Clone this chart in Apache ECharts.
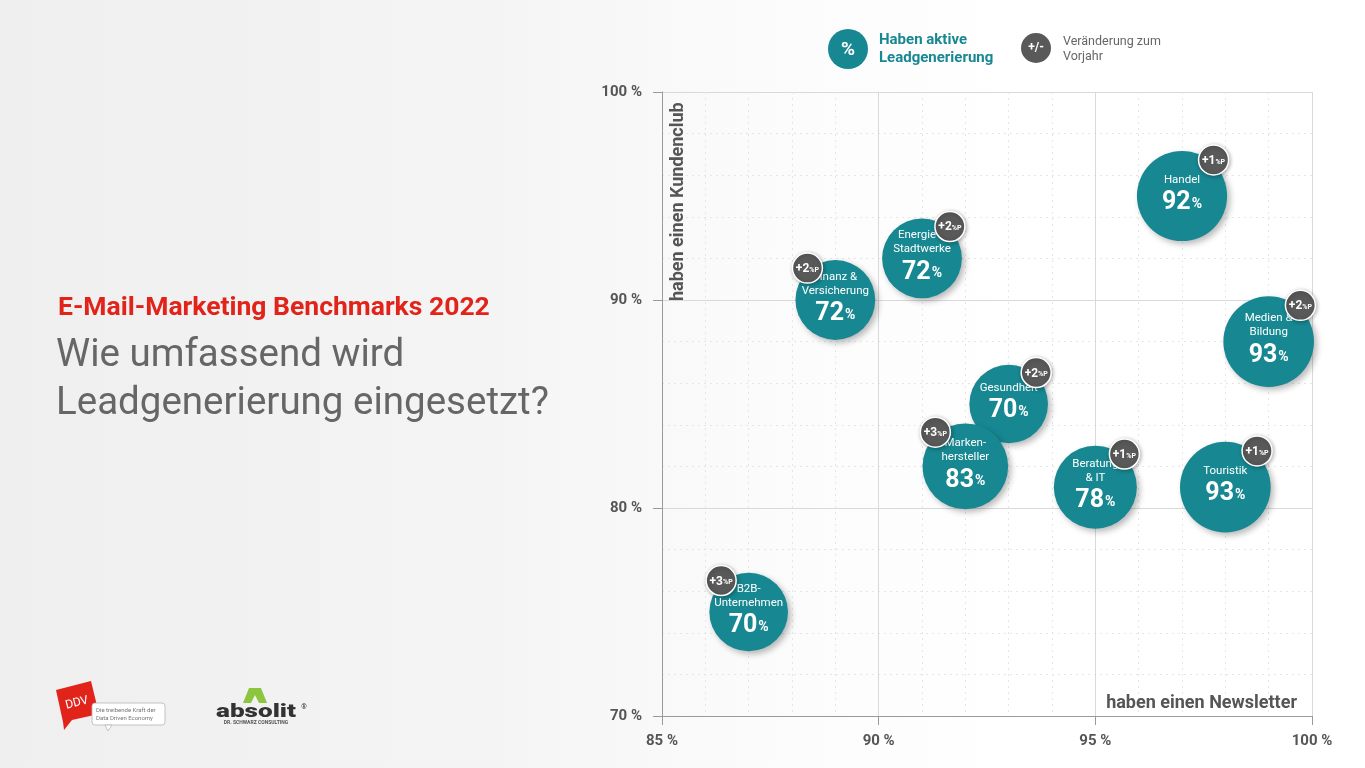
<!DOCTYPE html>
<html>
<head>
<meta charset="utf-8">
<script src="https://cdn.jsdelivr.net/npm/echarts@6/dist/echarts.min.js"></script>
<style>
html,body{margin:0;padding:0;width:1365px;height:768px;overflow:hidden;
background:linear-gradient(90deg,#efefef 0%,#f4f4f4 35%,#fbfbfb 55%,#ffffff 75%);}
#c{width:1365px;height:768px;}
</style>
</head>
<body>
<div id="c"></div>
<script>
// ---- data ----
const categories = ['Handel', 'Energie &\nStadtwerke', 'Finanz &\nVersicherung', 'Medien &\nBildung', 'Gesundheit', 'Marken-\nhersteller', 'Beratung\n& IT', 'Touristik', 'B2B-\nUnternehmen'];
const newsletter = [97, 91, 89, 99, 93, 92, 95, 98, 87];      // x: haben einen Newsletter (%)
const kundenclub = [95, 92, 90, 88, 85, 82, 81, 81, 75];      // y: haben einen Kundenclub (%)
const leadgen    = [92, 72, 72, 93, 70, 83, 78, 93, 70];      // haben aktive Leadgenerierung (%)
const change     = [1, 2, 2, 2, 2, 3, 1, 1, 3];               // Veränderung zum Vorjahr (%P)
const badgeSide  = ['right', 'right', 'left', 'right', 'right', 'left', 'right', 'right', 'left'];
const xTicks = [85, 90, 95, 100];
const yTicks = [70, 80, 90, 100];

// ---- style ----
const FONT = 'Roboto';
const TEAL = '#178892';
const BADGE = '#595959';
const AX = '#555555';

function bubbleSize(v) { return 9.4 * Math.sqrt(v); }

const chart = echarts.init(document.getElementById('c'), null, { renderer: 'canvas' });

const bubbleData = categories.map((c, i) => [newsletter[i], kundenclub[i], leadgen[i], c]);
const badgeData = categories.map((c, i) => [newsletter[i], kundenclub[i], change[i]]);

const option = {
  backgroundColor: 'transparent',
  animation: false,
  textStyle: { fontFamily: FONT },
  grid: { left: 662, right: 53, top: 92, bottom: 52 },
  xAxis: {
    type: 'value', min: xTicks[0], max: xTicks[xTicks.length - 1], interval: 5,
    axisLine: { show: true, lineStyle: { color: '#9a9a9a', width: 1 } },
    axisTick: { show: true, length: 9, lineStyle: { color: '#9a9a9a' } },
    axisLabel: { formatter: '{value} %', color: AX, fontWeight: 'bold', fontSize: 15, margin: 18, fontFamily: FONT },
    splitLine: { show: true, lineStyle: { color: '#d9d9d9' } },
    minorTick: { show: false, splitNumber: 5 },
    minorSplitLine: { show: true, lineStyle: { color: '#e6e6e6', type: [2, 4] } }
  },
  yAxis: {
    type: 'value', min: yTicks[0], max: yTicks[yTicks.length - 1], interval: 10,
    axisLine: { show: true, lineStyle: { color: '#9a9a9a', width: 1 } },
    axisTick: { show: true, length: 9, lineStyle: { color: '#9a9a9a' } },
    axisLabel: { formatter: '{value} %', color: AX, fontWeight: 'bold', fontSize: 15, margin: 20, fontFamily: FONT },
    splitLine: { show: true, lineStyle: { color: '#d9d9d9' } },
    minorTick: { show: false, splitNumber: 5 },
    minorSplitLine: { show: true, lineStyle: { color: '#e6e6e6', type: [2, 4] } }
  },
  series: [
    {
      type: 'scatter',
      clip: false,
      data: bubbleData,
      symbol: 'circle',
      symbolSize: (v) => bubbleSize(v[2]),
      itemStyle: {
        color: TEAL, opacity: 1,
        shadowBlur: 6, shadowColor: 'rgba(0,0,0,0.28)', shadowOffsetX: 3, shadowOffsetY: 3
      },
      label: {
        show: true, position: 'inside',
        formatter: (p) => {
          const lines = p.data[3].split('\n').map(l => '{n|' + l + '}').join('\n');
          return lines + '\n{v|' + p.data[2] + '}{p|%}';
        },
        rich: {
          n: { color: '#ffffff', fontSize: 11.5, lineHeight: 14, fontFamily: FONT, align: 'center' },
          v: { color: '#ffffff', fontSize: 25, fontWeight: 'bold', lineHeight: 32, fontFamily: FONT },
          p: { color: '#ffffff', fontSize: 14, fontWeight: 'bold', lineHeight: 32, padding: [3, 0, 0, 1], fontFamily: FONT }
        }
      },
      emphasis: { disabled: true },
      z: 2
    },
    {
      type: 'custom',
      clip: false,
      data: badgeData,
      z: 5,
      renderItem: (params, api) => {
        const i = params.dataIndex;
        const pt = api.coord([api.value(0), api.value(1)]);
        const r = bubbleSize(leadgen[i]) / 2;
        const s = badgeSide[i] === 'left' ? -1 : 1;
        const cx = pt[0] + s * 0.7 * r;
        const cy = pt[1] - 0.8 * r;
        return {
          type: 'group',
          children: [
            {
              type: 'circle', shape: { cx: cx, cy: cy, r: 15 },
              style: { fill: BADGE, stroke: '#ffffff', lineWidth: 1.5, shadowBlur: 4, shadowColor: 'rgba(0,0,0,0.3)', shadowOffsetX: 1, shadowOffsetY: 1 }
            },
            {
              type: 'text', x: cx, y: cy + 1,
              style: {
                text: '{a|+' + api.value(2) + '}{b|%P}',
                align: 'center', verticalAlign: 'middle',
                rich: {
                  a: { fontSize: 12, fontWeight: 'bold', fill: '#ffffff', fontFamily: FONT },
                  b: { fontSize: 7, fontWeight: 'bold', fill: '#ffffff', fontFamily: FONT, padding: [2, 0, 0, 0] }
                }
              }
            }
          ]
        };
      }
    }
  ],
  graphic: [
    // titles
    { type: 'text', left: 58, top: 295, style: { text: 'E-Mail-Marketing Benchmarks 2022', fill: '#e2231a', fontSize: 26.5, fontWeight: 'bold', fontFamily: FONT } },
    { type: 'text', left: 56, top: 332, style: { text: 'Wie umfassend wird\nLeadgenerierung eingesetzt?', fill: '#666666', fontSize: 38.5, lineHeight: 48, fontFamily: FONT } },
    // axis names
    { type: 'text', x: 678, y: 301, rotation: Math.PI / 2, style: { text: 'haben einen Kundenclub', fill: AX, fontSize: 18, fontWeight: 'bold', fontFamily: FONT, align: 'left', verticalAlign: 'middle' }, z: 10 },
    { type: 'text', x: 1297, y: 703, style: { text: 'haben einen Newsletter', fill: AX, fontSize: 18, fontWeight: 'bold', fontFamily: FONT, align: 'right', verticalAlign: 'middle' }, z: 10 },
    // legend
    { type: 'circle', shape: { cx: 848, cy: 49, r: 20 }, style: { fill: TEAL } },
    { type: 'text', x: 848, y: 50, style: { text: '%', fill: '#ffffff', fontSize: 19, fontWeight: 'bold', fontFamily: FONT, align: 'center', verticalAlign: 'middle' } },
    { type: 'text', x: 879, y: 49, style: { text: 'Haben aktive\nLeadgenerierung', fill: TEAL, fontSize: 15, fontWeight: 'bold', lineHeight: 18, fontFamily: FONT, align: 'left', verticalAlign: 'middle' } },
    { type: 'circle', shape: { cx: 1036, cy: 48, r: 15 }, style: { fill: BADGE } },
    { type: 'text', x: 1036, y: 48, style: { text: '+/-', fill: '#ffffff', fontSize: 12, fontWeight: 'bold', fontFamily: FONT, align: 'center', verticalAlign: 'middle' } },
    { type: 'text', x: 1063, y: 49, style: { text: 'Veränderung zum\nVorjahr', fill: '#666666', fontSize: 12.5, lineHeight: 15, fontFamily: FONT, align: 'left', verticalAlign: 'middle' } },
    // DDV logo
    { type: 'polygon', shape: { points: [[56, 690], [91, 681], [99, 714], [72, 720], [64, 730], [63, 722]] }, style: { fill: '#e2231a' } },
    { type: 'text', x: 77, y: 703, rotation: 0.25, style: { text: 'DDV', fill: '#ffffff', fontSize: 12, fontFamily: FONT, align: 'center', verticalAlign: 'middle' } },
    { type: 'rect', shape: { x: 92, y: 703, width: 73, height: 22, r: 3 }, style: { fill: '#ffffff', stroke: '#b5b5b5', lineWidth: 0.8 } },
    { type: 'polygon', shape: { points: [[105, 725], [112, 725], [108, 731]] }, style: { fill: '#ffffff', stroke: '#b5b5b5', lineWidth: 0.8 } },
    { type: 'text', x: 96, y: 714, style: { text: 'Die treibende Kraft der\nData Driven Economy', fill: '#777777', fontSize: 6, lineHeight: 8, fontFamily: FONT, align: 'left', verticalAlign: 'middle' } },
    // absolit logo
    { type: 'polygon', shape: { points: [[249, 688], [261, 688], [267, 703], [259, 703], [255, 695], [251, 703], [243, 703]] }, style: { fill: '#8cc63f' } },
    { type: 'text', x: 256, y: 712, scaleX: 1.45, style: { text: 'absolit', fill: '#333333', fontSize: 18, fontWeight: 900, fontFamily: FONT, align: 'center', verticalAlign: 'middle' } },
    { type: 'text', x: 304, y: 707, style: { text: '®', fill: '#333333', fontSize: 7, fontFamily: FONT, align: 'center', verticalAlign: 'middle' } },
    { type: 'text', x: 256, y: 723, style: { text: 'DR. SCHWARZ CONSULTING', fill: '#555555', fontSize: 5, fontWeight: 'bold', fontFamily: FONT, align: 'center', verticalAlign: 'middle' } }
  ]
};

chart.setOption(option);
</script>
</body>
</html>
